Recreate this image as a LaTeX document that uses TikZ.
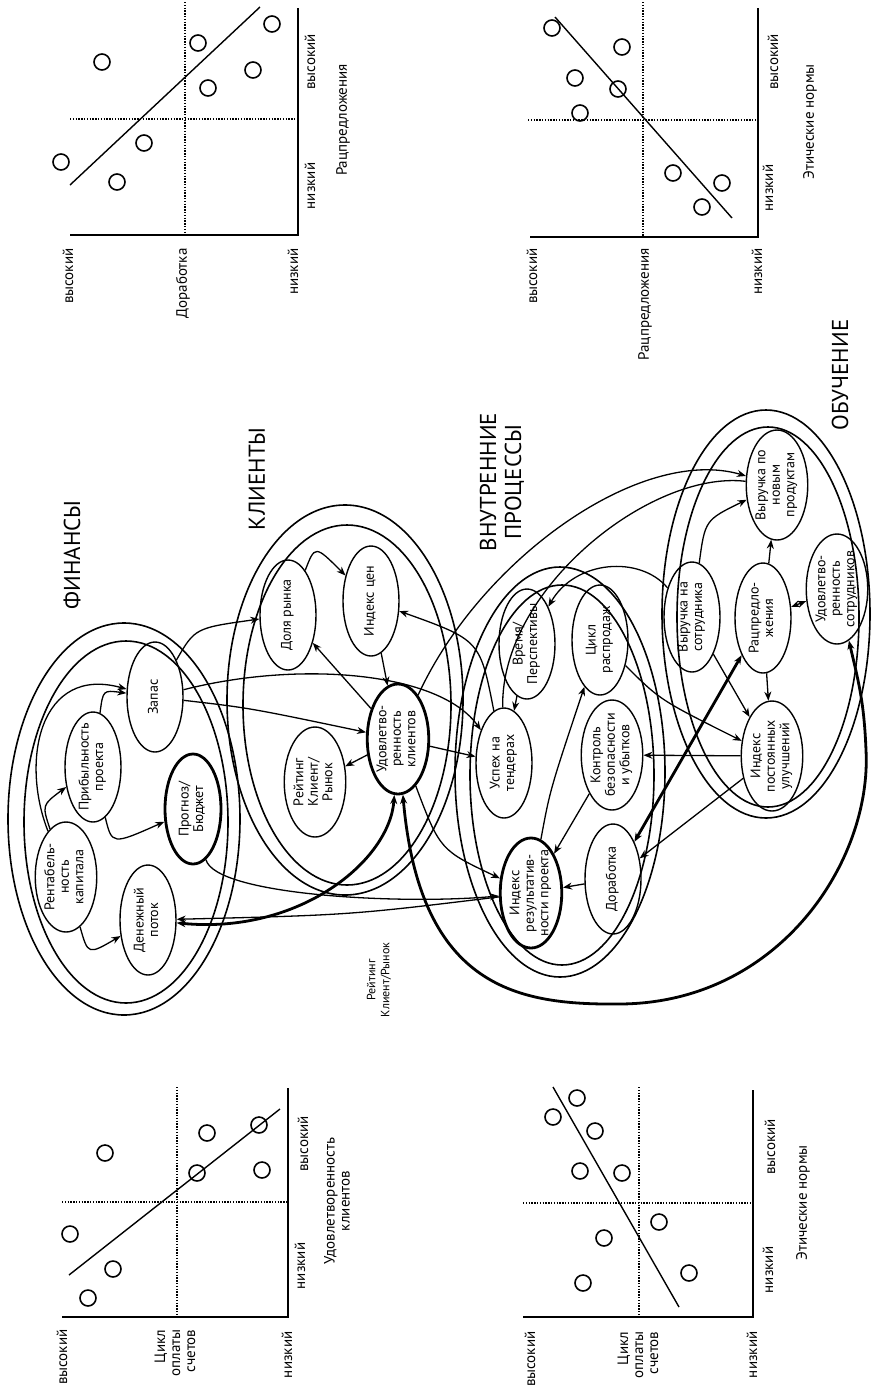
\documentclass[tikz,border=0pt]{standalone}
\usepackage{fontspec}
\setmainfont{PT Sans}
\usetikzlibrary{shapes.geometric, arrows.meta}

% text of an ellipse, kept out of the shape's width
\newcommand\kpitxt[1]{\makebox[0pt]{\fontsize{14}{14.5}\selectfont\begin{tabular}{@{}c@{}}#1\end{tabular}}}

\begin{document}
\begin{tikzpicture}[x=1pt, y=-1pt, >={Stealth[length=9pt, width=7pt]},
  every node/.style={rotate=90, font=\fontsize{15}{15}\selectfont},
  kpi/.style={ellipse, draw, line width=1.4pt, minimum width=110pt, minimum height=56pt, inner sep=0pt},
  kpimain/.style={kpi, line width=2.8pt},
  ring/.style={line width=1.6pt},
  link/.style={->, line width=1.3pt},
  strong/.style={<->, line width=2.8pt},
  axis/.style={line width=1.8pt},
  quad/.style={line width=1.5pt, dash pattern=on 1.4pt off 1.4pt},
  trend/.style={line width=1.4pt},
  obs/.style={line width=1.6pt},
  grp/.style={font=\fontsize{23}{25}\selectfont, align=center},
  small/.style={font=\fontsize{12}{14}\selectfont, align=center}]

\useasboundingbox (0,0) rectangle (871,1390);

% Chart: Доработка / Рацпредложения
\draw[axis] (70,235) -- (298,235) -- (298,8);
\draw[quad] (185,2) -- (185,235);
\draw[quad] (70,119) -- (298,119);
\draw[trend] (70,185) -- (260,7);
\draw[obs] (102,62) circle (8) (198,43) circle (8) (272,24) circle (8) (253,70) circle (8)
  (208,88) circle (8) (144,143) circle (8) (61,162) circle (8) (117,182) circle (8);
\node[anchor=east] (ahi) at (68,245) {высокий};
\node[anchor=east] (amid) at (183,245) {Доработка};
\node[anchor=east] (alo) at (293,245) {низкий};
\node (axlo) at (310,186) {низкий};
\node (axhi) at (310,62) {высокий};
\node (axname) at (343,120) {Рацпредложения};

% Chart: Рацпредложения / Этические нормы
\draw[axis] (530,237) -- (758,237) -- (758,8);
\draw[quad] (643,2) -- (643,237);
\draw[quad] (528,120) -- (758,120);
\draw[trend] (555,17) -- (732,218);
\draw[obs] (552,28) circle (8) (575,78) circle (8) (580,113) circle (8) (622,47) circle (8)
  (618,89) circle (8) (673,173) circle (8) (722,183) circle (8) (702,207) circle (8);
\node[anchor=east] (bhi) at (532,245) {высокий};
\node[anchor=east] (bmid) at (645,245) {Рацпредложения};
\node[anchor=east] (blo) at (757,245) {низкий};
\node (bxlo) at (768,188) {низкий};
\node (bxhi) at (773,62) {высокий};
\node (bxname) at (810,122) {Этические нормы};

% Chart: Цикл оплаты счетов / Удовлетворенность клиентов
\draw[axis] (62,1317) -- (288,1317) -- (288,1088);
\draw[quad] (177,1087) -- (177,1317);
\draw[quad] (62,1202) -- (288,1202);
\draw[trend] (69,1275) -- (280,1109);
\draw[obs] (105,1153) circle (8) (70,1234) circle (8) (113,1269) circle (8) (88,1298) circle (8)
  (197,1173) circle (8) (207,1133) circle (8) (259,1125) circle (8) (262,1170) circle (8);
\node[anchor=east] (chi) at (62,1326) {высокий};
\node[anchor=east, align=right] (cmid) at (175,1326) {Цикл\\оплаты\\счетов};
\node[anchor=east] (clo) at (287,1328) {низкий};
\node (cxlo) at (300,1266) {низкий};
\node (cxhi) at (303,1144) {высокий};
\node[align=center] (cxname) at (337,1201) {Удовлетворенность\\клиентов};

% Chart: Цикл оплаты счетов / Этические нормы
\draw[axis] (523,1317) -- (753,1317) -- (753,1090);
\draw[quad] (639,1087) -- (639,1317);
\draw[quad] (523,1203) -- (753,1203);
\draw[trend] (553,1087) -- (679,1307);
\draw[obs] (553,1117) circle (8) (577,1098) circle (8) (595,1131) circle (8) (580,1171) circle (8)
  (622,1173) circle (8) (604,1238) circle (8) (583,1283) circle (8) (659,1222) circle (8) (689,1273) circle (8);
\node[anchor=east] (dhi) at (530,1328) {высокий};
\node[anchor=east, align=right] (dmid) at (638,1328) {Цикл\\оплаты\\счетов};
\node[anchor=east] (dlo) at (752,1328) {низкий};
\node (dxlo) at (768,1270) {низкий};
\node (dxhi) at (770,1147) {высокий};
\node (dxname) at (803,1203) {Этические нормы};

% Perspective rings
\draw[ring] (124,819) ellipse [x radius=116, y radius=196];
\draw[ring] (126,822) ellipse [x radius=102, y radius=181];
\draw[ring] (345,700) ellipse [x radius=118, y radius=195];
\draw[ring] (347,705) ellipse [x radius=104, y radius=180];
\draw[ring] (560,772) ellipse [x radius=105, y radius=205];
\draw[ring] (562,775) ellipse [x radius=92, y radius=190];
\draw[ring] (766,614) ellipse [x radius=104, y radius=204];
\draw[ring] (768,617) ellipse [x radius=91, y radius=190];

\node[grp] (tfin) at (72,555) {ФИНАНСЫ};
\node[grp] (tcli) at (257,479) {КЛИЕНТЫ};
\node[grp] (tint) at (502,482) {ВНУТРЕННИЕ\\ПРОЦЕССЫ};
\node[grp] (tlrn) at (840,375) {ОБУЧЕНИЕ};
\node[small] (trat) at (379,980) {Рейтинг\\Клиент/Рынок};

% Finance
\node[kpi] (rent) at (66,877) {\kpitxt{Рентабель-\\ность\\капитала}};
\node[kpi] (prib) at (93,767) {\kpitxt{Прибыльность\\проекта}};
\node[kpi] (zapas) at (155,697) {\kpitxt{Запас}};
\node[kpimain] (prog) at (193,809) {\kpitxt{Прогноз/\\Бюджет}};
\node[kpi] (den) at (148,920) {\kpitxt{Денежный\\поток}};

% Clients
\node[kpi] (dolya) at (288,615) {\kpitxt{Доля рынка}};
\node[kpi] (cen) at (371,601) {\kpitxt{Индекс цен}};
\node[kpi] (reit) at (315,782) {\kpitxt{Рейтинг\\Клиент/\\Рынок}};
\node[kpimain] (udk) at (398,739) {\kpitxt{Удовлетво-\\ренность\\клиентов}};

% Internal processes
\node[kpi] (vrem) at (527,644) {\kpitxt{Время/\\Перспективы}};
\node[kpi] (cikl) at (600,640) {\kpitxt{Цикл\\распродаж}};
\node[kpi] (usp) at (504,763) {\kpitxt{Успех на\\тендерах}};
\node[kpi] (kontr) at (612,755) {\kpitxt{Контроль\\безопасности\\и убытков}};
\node[kpimain] (indr) at (531,893) {\kpitxt{Индекс\\результатив-\\ности проекта}};
\node[kpi] (dorab) at (613,879) {\kpitxt{Доработка}};

% Learning
\node[kpi] (vnp) at (777,485) {\kpitxt{Выручка по\\новым\\продуктам}};
\node[kpi] (vns) at (692,617) {\kpitxt{Выручка на\\сотрудника}};
\node[kpi] (racp) at (763,618) {\kpitxt{Рацпредло-\\жения}};
\node[kpi] (uds) at (837,589) {\kpitxt{Удовлетво-\\ренность\\сотрудников}};
\node[kpi] (ipu) at (772,756) {\kpitxt{Индекс\\постоянных\\улучшений}};

% Links inside finance
\draw[link] (rent) .. controls (42,805) .. (prib);
\draw[link] (rent) .. controls (88,955) .. (den);
\draw[link] (prib) .. controls (112,845) .. (prog);
\draw[link] (prib) .. controls (103,690) .. (zapas);
\draw[link] (rent) .. controls (20,760) and (40,665) .. (zapas);

% Finance to clients and processes
\draw[link] (zapas) .. controls (195,628) .. (dolya);
\draw[link] (zapas) .. controls (300,660) and (440,672) .. (usp);
\draw[link] (zapas) .. controls (250,708) .. (udk);
\draw[link] (prog) .. controls (215,895) and (400,905) .. (indr);
\draw[link] (indr) .. controls (350,915) .. (den);
\draw[strong] (den) .. controls (300,935) and (390,860) .. (udk);

% Clients
\draw[link] (dolya) .. controls (315,545) .. (cen);
\draw[link] (udk) -- (dolya);
\draw[link] (cen) -- (udk);
\draw[link] (udk) -- (reit);
\draw[link] (udk) -- (usp);
\draw[link] (udk) .. controls (440,850) .. (indr);
\draw[link] (usp) .. controls (480,640) .. (cen);
\draw[link] (udk) .. controls (480,560) and (640,445) .. (vnp);
\draw[line width=1.3pt] (usp) .. controls (500,590) and (650,470) .. (vnp);

% Processes and learning
\draw[link] (vns) .. controls (640,555) and (575,560) .. (vrem);
\draw[link] (vrem) -- (usp);
\draw[link] (indr) .. controls (550,790) .. (cikl);
\draw[link] (cikl) .. controls (660,700) .. (ipu);
\draw[link] (kontr) -- (indr);
\draw[link] (dorab) -- (indr);
\draw[link] (ipu) -- (kontr);
\draw[link] (ipu) -- (dorab);
\draw[strong] (racp) -- (dorab);
\draw[link] (vns) -- (ipu);
\draw[link] (racp) -- (vnp);
\draw[<->, line width=1.3pt] (racp) -- (uds);
\draw[link] (racp) -- (ipu);
\draw[link] (vns) .. controls (705,520) .. (vnp);
\draw[strong] (udk) .. controls (420,990) and (520,1005) .. (620,1004)
  .. controls (780,1003) and (872,860) .. (866,750) .. controls (864,700) and (858,680) .. (uds);

\end{tikzpicture}
\end{document}
